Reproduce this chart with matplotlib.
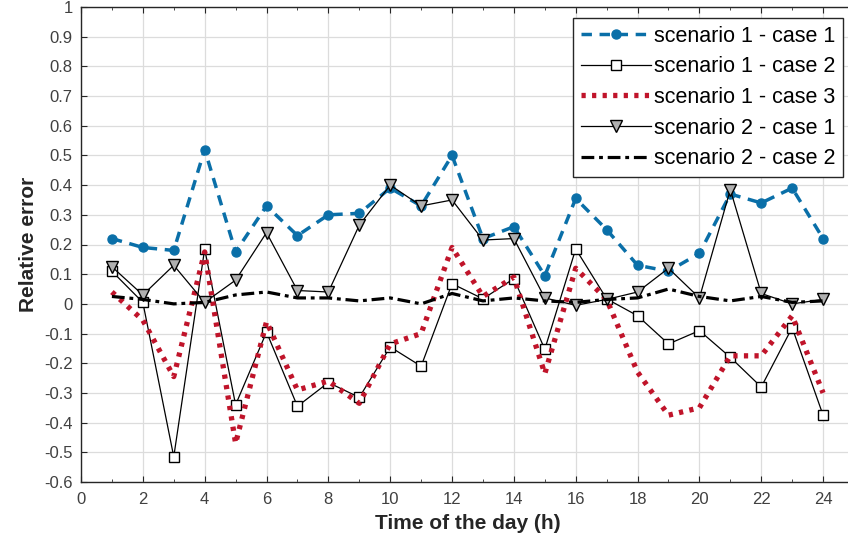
import numpy as np
import matplotlib
matplotlib.use("Agg")
import matplotlib.pyplot as plt
from matplotlib.ticker import MultipleLocator

# Horas del día
horas = list(range(1, 25))

# Error relativo de cada caso
esc1_caso1 = [0.22, 0.19, 0.18, 0.52, 0.175, 0.33, 0.23, 0.30, 0.305, 0.39, 0.33, 0.50,
              0.22, 0.26, 0.095, 0.355, 0.25, 0.13, 0.11, 0.17, 0.37, 0.34, 0.39, 0.22]
esc1_caso2 = [0.11, 0.005, -0.515, 0.185, -0.34, -0.095, -0.345, -0.265, -0.315, -0.145, -0.21, 0.068,
              0.017, 0.085, -0.153, 0.185, 0.017, -0.04, -0.135, -0.09, -0.18, -0.28, -0.08, -0.375]
esc1_caso3 = [0.04, -0.055, -0.245, 0.175, -0.47, -0.06, -0.29, -0.26, -0.335, -0.135, -0.10, 0.19,
              0.025, 0.09, -0.235, 0.12, 0.015, -0.23, -0.375, -0.35, -0.175, -0.175, -0.04, -0.30]
esc2_caso1 = [0.125, 0.03, 0.13, 0.005, 0.08, 0.24, 0.045, 0.04, 0.265, 0.40, 0.33, 0.35,
              0.215, 0.22, 0.02, -0.005, 0.015, 0.04, 0.12, 0.02, 0.385, 0.035, 0.0, 0.015]
esc2_caso2 = [0.025, 0.015, 0.0, 0.005, 0.03, 0.04, 0.02, 0.02, 0.01, 0.02, 0.0, 0.035,
              0.01, 0.02, 0.01, 0.005, 0.015, 0.02, 0.05, 0.025, 0.01, 0.025, 0.005, 0.01]

etiquetas_y = ['-0.6', '-0.5', '-0.4', '-0.3', '-0.2', '-0.1', '0', '0.1', '0.2', '0.3',
               '0.4', '0.5', '0.6', '0.7', '0.8', '0.9', '1']

plt.rcParams['font.family'] = ['Liberation Sans', 'DejaVu Sans']

fig = plt.figure(figsize=(8.48, 5.54), dpi=100)
ax = fig.add_axes([81 / 848, 72 / 554, 773 / 848, 475 / 554])

ax.plot(horas, esc1_caso1, linestyle=(0, (3, 2.2)), color='#0a6fa8', linewidth=2.5,
        marker='o', markersize=6.5, markerfacecolor='#0a6fa8', markeredgecolor='#0a6fa8',
        label='scenario 1 - case 1')
ax.plot(horas, esc1_caso2, '-', color='black', linewidth=0.9, marker='s', markersize=7,
        markerfacecolor='white', markeredgecolor='black', label='scenario 1 - case 2')
ax.plot(horas, esc1_caso3, linestyle=(0, (0.8, 1.2)), color='#c0142a', linewidth=3.8,
        label='scenario 1 - case 3')
ax.plot(horas, esc2_caso1, '-', color='black', linewidth=0.9, marker='v', markersize=9,
        markerfacecolor='#b0b0b0', markeredgecolor='black', label='scenario 2 - case 1')
ax.plot(horas, esc2_caso2, linestyle=(0, (4, 1.5, 1.2, 1.5)), color='black', linewidth=2.3,
        label='scenario 2 - case 2')

ax.set_xlim(0, 25)
ax.set_ylim(-0.6, 1)
ax.xaxis.set_major_locator(MultipleLocator(2))
ax.xaxis.set_minor_locator(MultipleLocator(1))
ax.set_yticks(np.round(np.arange(-0.6, 1.01, 0.1), 1))
ax.set_yticklabels(etiquetas_y)
ax.tick_params(which='both', direction='in', top=True, right=True, labelsize=12,
               colors='#262626', labelcolor='#404040')
ax.tick_params(axis='x', which='major', length=4, pad=7)
ax.tick_params(axis='y', which='major', length=4, pad=6)
ax.tick_params(which='minor', length=2)
ax.grid(True, which='major', color='#dcdcdc', linewidth=0.9)
ax.set_axisbelow(True)
for s in ax.spines.values():
    s.set_color('#262626')
    s.set_linewidth(1.0)

ax.set_xlabel('Time of the day (h)', fontsize=15, fontweight='bold', color='#262626', labelpad=5)
ax.set_ylabel('Relative error', fontsize=15, fontweight='bold', color='#262626', labelpad=4)

leg = ax.legend(loc='upper right', bbox_to_anchor=(843 / 848, 1 - 18 / 554),
                bbox_transform=fig.transFigure,
                fontsize=15.5, frameon=True, fancybox=False, handlelength=3.25,
                handletextpad=0.15, borderpad=0.35, labelspacing=0.45, borderaxespad=0)
leg.get_frame().set_edgecolor('#262626')
leg.get_frame().set_linewidth(1.0)
leg.get_frame().set_alpha(1)

fig.savefig('out.png', dpi=100)
